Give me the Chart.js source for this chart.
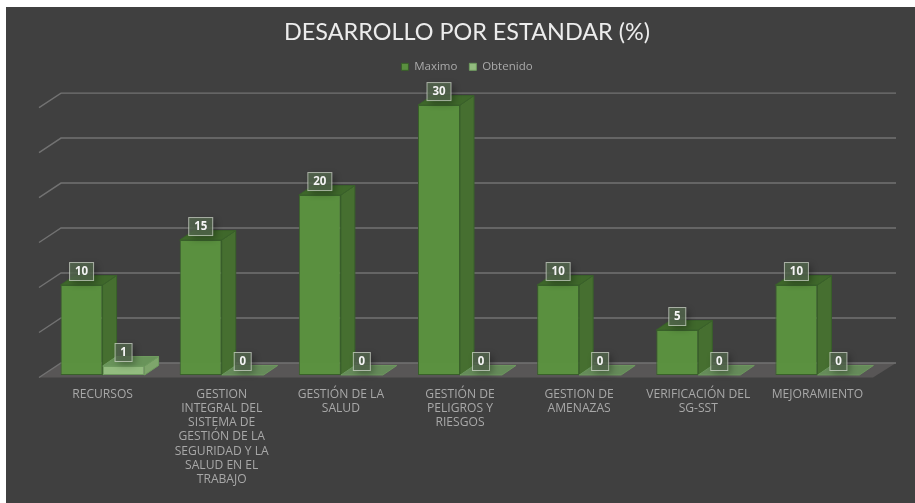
<!DOCTYPE html>
<html>
<head>
<meta charset="utf-8">
<script src="https://cdn.jsdelivr.net/npm/chart.js@4"></script>
<style>
html,body{margin:0;padding:0;background:#fff;overflow:hidden;width:915px;height:503px}
#wrap{position:absolute;left:6px;top:7px;width:909px;height:496px;overflow:hidden;background:#404040}
</style>
</head>
<body>
<div id="wrap"><canvas id="c" width="909" height="496" style="width:909px;height:496px;display:block"></canvas></div>
<script>
const categories = [
  ["RECURSOS"],
  ["GESTION","INTEGRAL DEL","SISTEMA DE","GESTIÓN DE LA","SEGURIDAD Y LA","SALUD EN EL","TRABAJO"],
  ["GESTIÓN DE LA","SALUD"],
  ["GESTIÓN DE","PELIGROS Y","RIESGOS"],
  ["GESTION DE","AMENAZAS"],
  ["VERIFICACIÓN DEL","SG-SST"],
  ["MEJORAMIENTO"]
];
const maximo = [10, 15, 20, 30, 10, 5, 10];
const obtenido = [1, 0, 0, 0, 0, 0, 0];
const chartTitle = "DESARROLLO POR ESTANDAR (%)";

const DX = 14, DY = 9.5;
const palette = [
  {front:"rgba(91,147,63,.97)", side:"#466f30", top:"#3f682b", edge:"#39602a"},
  {front:"#93bc7f", side:"#7ea56b", top:"#69945a", edge:"#6f9b5f"}
];
const threeD = {
  id:"threeD",
  afterInit(chart){
    const fit = chart.legend.fit;
    chart.legend.fit = function(){ fit.call(this); this.height += 22.5; };
  },
  beforeDatasetsDraw(chart){
    const {ctx, chartArea:a, scales:{y}} = chart;
    ctx.save();
    const y0 = y.getPixelForValue(0);
    // floor
    ctx.fillStyle = "#585656";
    ctx.beginPath();
    ctx.moveTo(a.left-4, y0+2.5); ctx.lineTo(a.left+18, y0-12);
    ctx.lineTo(a.right+19, y0-12); ctx.lineTo(a.right-4, y0+2.5);
    ctx.closePath(); ctx.fill();
    // back wall grid lines
    ctx.strokeStyle = "#727272"; ctx.lineWidth = 1.4;
    y.ticks.forEach(t=>{
      const p = y.getPixelForValue(t.value);
      ctx.beginPath();
      ctx.moveTo(a.left-4, p+2.5); ctx.lineTo(a.left+18, p-12); ctx.lineTo(a.right+19, p-12);
      ctx.stroke();
    });
    // side and top faces
    chart.data.datasets.forEach((ds,di)=>{
      const c = palette[di];
      chart.getDatasetMeta(di).data.forEach((b,i)=>{
        const v = ds.data[i];
        const l = b.x-b.width/2, r = b.x+b.width/2, t = b.y, bot = b.base;
        ctx.lineWidth = 1; ctx.strokeStyle = c.edge;
        if(v>0){
          ctx.fillStyle = c.side;
          ctx.beginPath();
          ctx.moveTo(r,t); ctx.lineTo(r+DX,t-DY); ctx.lineTo(r+DX,bot-DY); ctx.lineTo(r,bot);
          ctx.closePath(); ctx.fill(); ctx.stroke();
        }
        ctx.fillStyle = c.top;
        ctx.globalAlpha = v>0 ? 1 : .85;
        ctx.beginPath();
        ctx.moveTo(l,t); ctx.lineTo(l+DX,t-DY); ctx.lineTo(r+DX,t-DY); ctx.lineTo(r,t);
        ctx.closePath(); ctx.fill(); ctx.stroke();
        ctx.globalAlpha = 1;
      });
    });
    ctx.restore();
  },
  afterDatasetsDraw(chart){
    const {ctx} = chart;
    ctx.save();
    chart.data.datasets.forEach((ds,di)=>{
      chart.getDatasetMeta(di).data.forEach((b,i)=>{
        const s = String(ds.data[i]);
        const w = s.length>1 ? 24 : 17, h = 18;
        const cx = b.x, cy = b.y-13.5;
        ctx.shadowColor = "rgba(0,0,0,.4)"; ctx.shadowBlur = 7; ctx.shadowOffsetX = 3; ctx.shadowOffsetY = 3;
        ctx.fillStyle = "rgba(84,104,78,.8)";
        ctx.fillRect(cx-w/2, cy-h/2, w, h);
        ctx.shadowColor = "transparent"; ctx.shadowBlur = 0; ctx.shadowOffsetX = 0; ctx.shadowOffsetY = 0;
        ctx.strokeStyle = "rgba(225,230,220,.65)"; ctx.lineWidth = 1;
        ctx.strokeRect(cx-w/2, cy-h/2, w, h);
        ctx.fillStyle = "#f4f4f4"; ctx.font = "bold 11.5px 'Open Sans'";
        ctx.textAlign = "center"; ctx.textBaseline = "middle";
        ctx.fillText(s, cx, cy+.5);
      });
    });
    ctx.restore();
  }
};

new Chart(document.getElementById("c"), {
  type:"bar",
  data:{
    labels:categories,
    datasets:[
      {label:"Maximo", data:maximo, backgroundColor:palette[0].front, borderColor:palette[0].edge,
       borderWidth:c=>c.raw>0?1:0, borderSkipped:false, barPercentage:1, categoryPercentage:.705},
      {label:"Obtenido", data:obtenido, backgroundColor:palette[1].front, borderColor:palette[1].edge,
       borderWidth:c=>c.raw>0?1:0, borderSkipped:false, barPercentage:1, categoryPercentage:.705}
    ]
  },
  options:{
    responsive:false, animation:false, devicePixelRatio:1,
    layout:{padding:{left:37,right:24,top:0,bottom:0}},
    plugins:{
      tooltip:{enabled:false},
      title:{display:true,text:chartTitle,color:"#ececec",
        font:{family:"Lato",size:23.4,weight:"normal"},padding:{top:11,bottom:3}},
      legend:{display:true,position:"top",
        labels:{color:"#aaaaaa",font:{family:"'Open Sans'",size:11.5},boxWidth:7,boxHeight:7,padding:12}}
    },
    scales:{
      x:{grid:{display:false},border:{display:false},
         afterFit(s){s.height=128;},
         ticks:{color:"#a8a8a8",font:{family:"'Open Sans'",size:12.1,lineHeight:1.18},padding:4,maxRotation:0,autoSkip:false}},
      y:{display:false,min:0,max:30,ticks:{stepSize:5}},
      yRight:{position:"right",grid:{display:false},border:{display:false},ticks:{display:false},
         afterFit(s){s.width=14;}}
    }
  },
  plugins:[threeD]
});
</script>
</body>
</html>
